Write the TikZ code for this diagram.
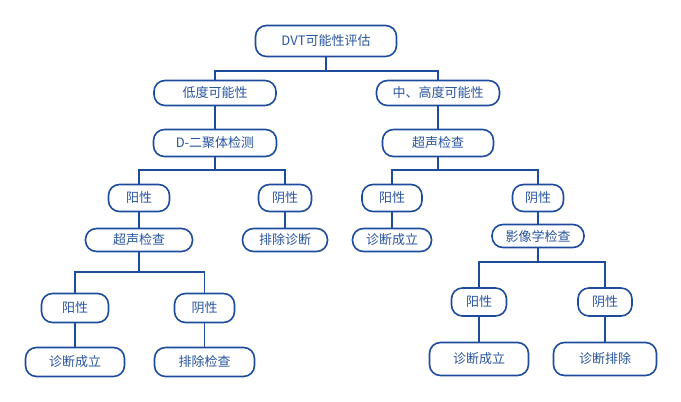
\documentclass[tikz,border=0pt]{standalone}
\usepackage{fontspec}
\setmainfont{Noto Sans CJK SC}
\usetikzlibrary{calc}
\definecolor{dvtblue}{RGB}{30,76,156}
\definecolor{dvttext}{RGB}{40,84,160}

\begin{document}
\begin{tikzpicture}[x=1pt, y=-1pt, % 1px = 1pt, y nach unten
  box/.style={draw=dvtblue, line width=1.6pt, rounded corners=11pt, text=dvttext,
    font=\fontsize{13}{15}\selectfont, inner sep=0pt},
  line/.style={draw=dvtblue, line width=1.6pt}]
\useasboundingbox (0,0) rectangle (681,402);
% Kästen: Name/x/y/Breite/Höhe/Text
\foreach \n/\x/\y/\w/\h/\t in {
  dvt/326/41/141/31/DVT可能性评估,
  low/215/93/122/25/低度可能性, mid/438/93/123/25/中、高度可能性,
  dd/215/143/123/27/D-二聚体检测, us/438/143/111/27/超声检查,
  pos1/139/198/61/27/阳性, neg1/285/198/53/27/阴性,
  us2/139/240/107/23/超声检查, excl1/285/240/85/23/排除诊断,
  pos2/392/198/60/27/阳性, neg2/538/198/51/27/阴性,
  diag2/392/240/79/23/诊断成立, img/538/236/92/23/影像学检查,
  pos3/75/308/67/29/阳性, neg3/204.5/308/60/29/阴性,
  diag3/75/362/99/29/诊断成立, excl3/204.5/362/100/29/排除检查,
  pos4/479/302/55/28/阳性, neg4/605/302/54/28/阴性,
  diag4/479/359/99/33/诊断成立, excl4/605/359/103/33/诊断排除} {
  \node[box, minimum width=\w pt, minimum height=\h pt] (\n) at (\x,\y) {\t};
}
% Verzweigungen: Eltern/links/rechts/Höhe der Querlinie
\foreach \p/\a/\b/\y [count=\i] in {dvt/low/mid/71, dd/pos1/neg1/170, us/pos2/neg2/170,
  us2/pos3/neg3/272, img/pos4/neg4/262} {
  \coordinate (bar\i) at (0,\y);
  \draw[line] (\p.south) -- (\p.south |- bar\i) -| (\a.north)
    (\p.south |- bar\i) -| (\b.north);
}
% einfache Verbindungen
\foreach \a/\b in {low/dd, mid/us, pos1/us2, neg1/excl1, pos2/diag2, neg2/img,
  pos3/diag3, neg3/excl3, pos4/diag4, neg4/excl4}
  \draw[line] (\a.south) -- (\b.north);
\end{tikzpicture}
\end{document}
